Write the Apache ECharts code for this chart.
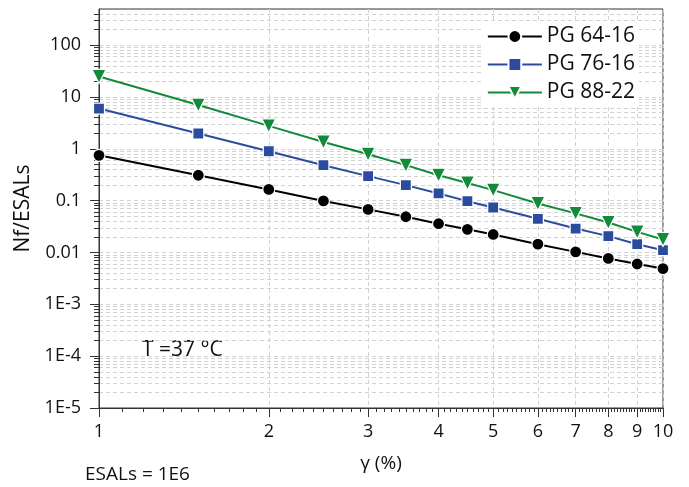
<!DOCTYPE html>
<html><head><meta charset="utf-8">
<script src="https://cdn.jsdelivr.net/npm/echarts@6/dist/echarts.min.js"></script>
<style>html,body{margin:0;padding:0;background:#fff}#c{width:689px;height:487px}</style>
</head><body><div id="c"></div>
<script>
const strain = [1, 1.5, 2, 2.5, 3, 3.5, 4, 4.5, 5, 6, 7, 8, 9, 10];
const pg6416 = [0.75, 0.31, 0.165, 0.099, 0.068, 0.049, 0.036, 0.028, 0.0223, 0.0145, 0.0103, 0.0077, 0.006, 0.0049];
const pg7616 = [6.0, 1.98, 0.90, 0.485, 0.298, 0.20, 0.138, 0.098, 0.074, 0.0447, 0.029, 0.0207, 0.0145, 0.0111];
const pg8822 = [25, 7.0, 2.78, 1.36, 0.79, 0.485, 0.31, 0.22, 0.16, 0.0885, 0.057, 0.038, 0.025, 0.0179];
const seriesNames = ['PG 64-16', 'PG 76-16', 'PG 88-22'];

const xMajorTicks = [1, 2, 3, 4, 5, 6, 7, 8, 9, 10];
const xMinorTicks = [1.1,1.2,1.3,1.4,1.5,1.6,1.7,1.8,1.9, 2.1,2.2,2.3,2.4,2.5,2.6,2.7,2.8,2.9,
  3.1,3.2,3.3,3.4,3.5,3.6,3.7,3.8,3.9, 4.1,4.2,4.3,4.4,4.5,4.6,4.7,4.8,4.9,
  5.1,5.2,5.3,5.4,5.5,5.6,5.7,5.8,5.9, 6.1,6.2,6.3,6.4,6.5,6.6,6.7,6.8,6.9,
  7.1,7.2,7.3,7.4,7.5,7.6,7.7,7.8,7.9, 8.1,8.2,8.3,8.4,8.5,8.6,8.7,8.8,8.9,
  9.1,9.2,9.3,9.4,9.5,9.6,9.7,9.8,9.9];
const yMajorTicks = [1e-5, 1e-4, 1e-3, 0.01, 0.1, 1, 10, 100];
const yMajorLabels = ['1E-5', '1E-4', '1E-3', '0.01', '0.1', '1', '10', '100'];
const yMinorTicks = [2e-5,3e-5,4e-5,5e-5,6e-5,7e-5,8e-5,9e-5,
  2e-4,3e-4,4e-4,5e-4,6e-4,7e-4,8e-4,9e-4,
  2e-3,3e-3,4e-3,5e-3,6e-3,7e-3,8e-3,9e-3,
  0.02,0.03,0.04,0.05,0.06,0.07,0.08,0.09,
  0.2,0.3,0.4,0.5,0.6,0.7,0.8,0.9,
  2,3,4,5,6,7,8,9,
  20,30,40,50,60,70,80,90,
  200,300,400];

const FONT = 'Open Sans';
const gridDash = {show: true, lineStyle: {color: '#d2d2d2', type: [4, 3], width: 1}};

function yLabel(v) {
  for (let i = 0; i < yMajorTicks.length; i++) {
    if (Math.abs(Math.log10(v) - Math.log10(yMajorTicks[i])) < 1e-6) return yMajorLabels[i];
  }
  return '';
}

const chart = echarts.init(document.getElementById('c'), null, {renderer: 'canvas'});
const mk = (name, data, color, symbol, size, rot) => ({
  name, type: 'line', data: strain.map((x, i) => [x, data[i]]),
  symbol, symbolSize: size, symbolRotate: rot, showSymbol: true,
  lineStyle: {color, width: 2}, itemStyle: {color, borderColor: '#fff', borderWidth: 1.2},
  emphasis: {disabled: true}, z: 5
});
chart.setOption({
  animation: false,
  grid: {left: 99, right: 26, top: 9, bottom: 79, show: true, borderColor: '#333', borderWidth: 1, backgroundColor: 'transparent'},
  xAxis: [{
    type: 'log', logBase: 10, min: 1, max: 10,
    name: 'γ (%)', nameLocation: 'middle', nameGap: 46,
    nameTextStyle: {fontFamily: FONT, fontSize: 19, color: '#111'},
    axisLine: {lineStyle: {color: '#333', width: 1}},
    axisTick: {show: true, length: 9, customValues: xMajorTicks, lineStyle: {color: '#333'}},
    axisLabel: {customValues: xMajorTicks, fontFamily: FONT, fontSize: 18, color: '#111', margin: 15,
      formatter: v => String(Math.round(v))},
    splitLine: gridDash, minorTick: {show: false}, minorSplitLine: {show: false}
  }, {
    type: 'log', logBase: 10, min: 1, max: 10, position: 'bottom',
    axisLine: {show: false},
    axisTick: {show: true, length: 4, customValues: xMinorTicks, lineStyle: {color: '#333'}},
    axisLabel: {show: false}, splitLine: {show: false}
  }],
  yAxis: [{
    type: 'log', logBase: 10, min: 1e-5, max: 500,
    name: 'Nf/ESALs', nameLocation: 'middle', nameGap: 64,
    nameTextStyle: {fontFamily: FONT, fontSize: 21, color: '#111'},
    axisLine: {show: true, lineStyle: {color: '#333', width: 1}},
    axisTick: {show: true, length: 9, customValues: yMajorTicks, lineStyle: {color: '#333'}},
    axisLabel: {customValues: yMajorTicks, fontFamily: FONT, fontSize: 18, color: '#111', margin: 18, formatter: yLabel},
    splitLine: gridDash
  }, {
    type: 'log', logBase: 10, min: 1e-5, max: 500, position: 'left',
    axisLine: {show: false},
    axisTick: {show: true, length: 5, customValues: yMinorTicks, lineStyle: {color: '#333'}},
    axisLabel: {show: false},
    splitLine: gridDash
  }],
  legend: {
    orient: 'vertical', right: 50, top: 22, itemWidth: 54, itemHeight: 16, itemGap: 7,
    backgroundColor: '#fff', padding: [4, 4, 4, 4],
    textStyle: {fontFamily: FONT, fontSize: 21, color: '#111'},
    data: seriesNames
  },
  graphic: [
    {type: 'text', left: 142, top: 340, style: {text: 'T =37 °C', font: '21px "Open Sans"', fill: '#111'}},
    {type: 'text', left: 85, top: 465, style: {text: 'ESALs = 1E6', font: '19px "Open Sans"', fill: '#111'}}
  ],
  series: [
    mk(seriesNames[0], pg6416, '#000000', 'circle', 12, 0),
    mk(seriesNames[1], pg7616, '#2B4C9E', 'rect', 11, 0),
    mk(seriesNames[2], pg8822, '#118A3A', 'triangle', 14, 180)
  ]
});
</script></body></html>
